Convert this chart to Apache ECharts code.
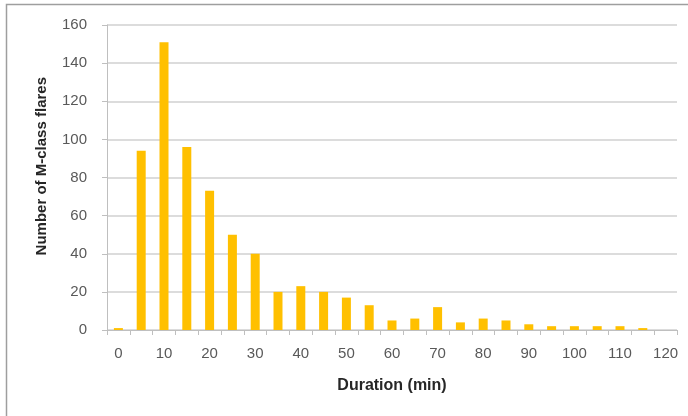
<!DOCTYPE html>
<html>
<head>
<meta charset="utf-8">
<script src="https://cdn.jsdelivr.net/npm/echarts@6/dist/echarts.min.js"></script>
<style>html,body{margin:0;padding:0;background:#fff}#c{width:688px;height:416px}</style>
</head>
<body>
<div id="c"></div>
<script>
var categories = ['0','5','10','15','20','25','30','35','40','45','50','55','60','65','70','75','80','85','90','95','100','105','110','115','120'];
var counts = [1,94,151,96,73,50,40,20,23,20,17,13,5,6,12,4,6,5,3,2,2,2,2,1,0];
var yTitle = 'Number of M-class flares';
var xTitle = 'Duration (min)';

var chart = echarts.init(document.getElementById('c'));
var font = '"Liberation Sans", Arial, sans-serif';
chart.setOption({
  animation: false,
  backgroundColor: '#ffffff',
  grid: {left: 107, right: 11, top: 25, bottom: 86, containLabel: false},
  graphic: [
    {type: 'rect', shape: {x: 6.5, y: 4.5, width: 720, height: 440}, style: {fill: 'none', stroke: '#9e9e9e', lineWidth: 1.5}, silent: true},
    {type: 'text', left: 34, top: 77, rotation: Math.PI / 2, style: {text: yTitle, font: 'bold 15px ' + font, fill: '#262626'}},
  ],
  xAxis: {
    type: 'category',
    data: categories,
    boundaryGap: true,
    name: xTitle,
    nameLocation: 'middle',
    nameGap: 48,
    nameTextStyle: {fontFamily: font, fontWeight: 'bold', fontSize: 16, color: '#262626'},
    axisLine: {lineStyle: {color: '#bfbfbf', width: 1}},
    axisTick: {show: true, interval: 0, length: 5, lineStyle: {color: '#bfbfbf'}},
    axisLabel: {interval: 1, margin: 16, fontFamily: font, fontSize: 15, color: '#595959'}
  },
  yAxis: {
    type: 'value',
    min: 0, max: 160, interval: 20,
    axisLine: {show: true, lineStyle: {color: '#bfbfbf', width: 1}},
    axisTick: {show: true, length: 5, lineStyle: {color: '#bfbfbf'}},
    axisLabel: {margin: 20, fontFamily: font, fontSize: 15, color: '#595959'},
    splitLine: {lineStyle: {color: '#d0d0d0', width: 1.5}}
  },
  series: [{
    type: 'bar',
    data: counts,
    barWidth: 9,
    itemStyle: {color: '#FFC000'}
  }]
});
</script>
</body>
</html>
